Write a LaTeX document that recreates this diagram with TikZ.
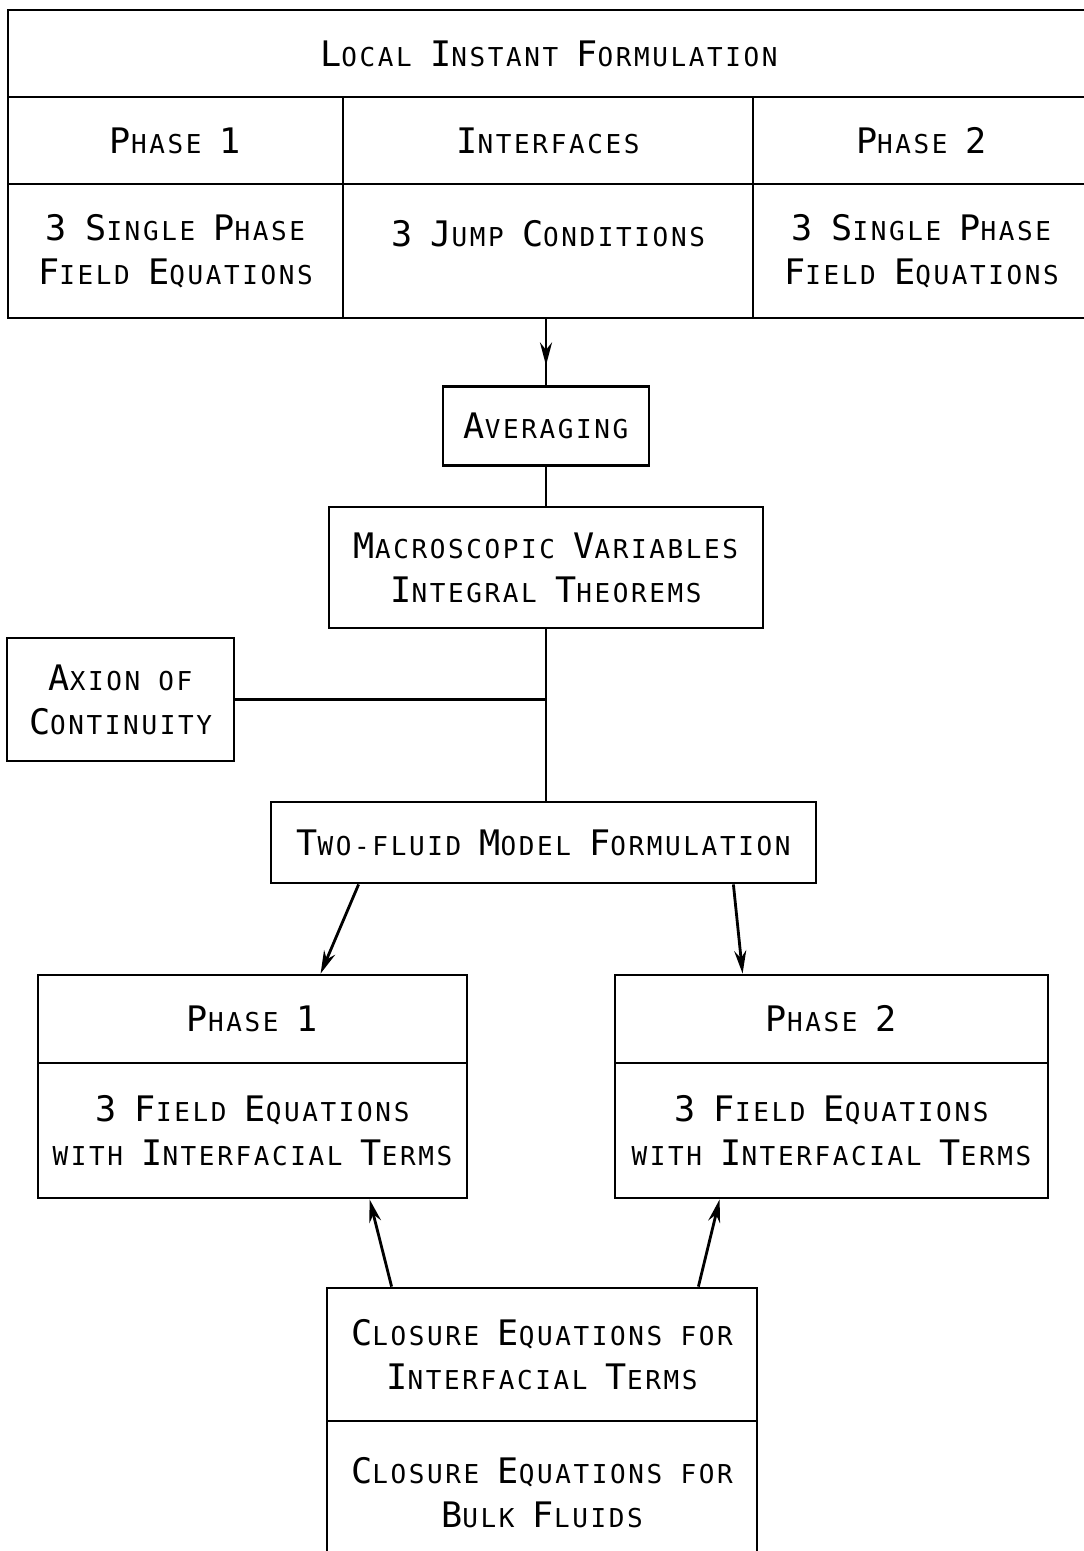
\documentclass[tikz,border=0pt]{standalone}
\usepackage{fontspec}
\usetikzlibrary{arrows.meta,calc}

\newfontfamily\plotfont[LetterSpace=10]{DejaVu Sans Mono}
% large initial letter, rest in small capitals
\newcommand\sk[2]{{\fontsize{10}{12.5}\selectfont#1}#2}

\begin{document}
\begin{tikzpicture}[x=0.1mm,y=-0.1mm,
    line width=0.8pt,
    font=\plotfont\fontsize{7.4}{12.5}\selectfont,
    cell/.style={draw, inner sep=0pt, align=center},
    arr/.style={-{Stealth[length=2.3mm,width=1.2mm]}}]
            \useasboundingbox (0,0) rectangle (1083,1551);

            % Local instant formulation table
            \node[cell, minimum width=108.2mm, minimum height=8.7mm] (local) at (549,53.5)
                {\sk{L}{OCAL} \sk{I}{NSTANT} \sk{F}{ORMULATION}};
            \node[cell, minimum width=33.5mm, minimum height=8.7mm] (top1) at (175.5,140.5)
                {\sk{P}{HASE} \sk{1}{}};
            \node[cell, minimum width=41mm, minimum height=8.7mm] (topi) at (548,140.5)
                {\sk{I}{NTERFACES}};
            \node[cell, minimum width=33.7mm, minimum height=8.7mm] (top2) at (921.5,140.5)
                {\sk{P}{HASE} \sk{2}{}};
            \node[cell, minimum width=33.5mm, minimum height=13.4mm] (single1) at (175.5,251)
                {\sk{3}{} \sk{S}{INGLE} \sk{P}{HASE}\\\sk{F}{IELD} \sk{E}{QUATIONS}};
            \node[cell, minimum width=41mm, minimum height=13.4mm] (jump) at (548,251)
                {\sk{3}{} \sk{J}{UMP} \sk{C}{ONDITIONS}\\[-6pt]\strut};
            \node[cell, minimum width=33.7mm, minimum height=13.4mm] (single2) at (921.5,251)
                {\sk{3}{} \sk{S}{INGLE} \sk{P}{HASE}\\\sk{F}{IELD} \sk{E}{QUATIONS}};

            % Averaging steps
            \node[cell, minimum width=20.6mm, minimum height=7.9mm] (avg) at (546,426)
                {\sk{A}{VERAGING}};
            \node[cell, minimum width=43.4mm, minimum height=12.1mm] (macro) at (546,567.5)
                {\sk{M}{ACROSCOPIC} \sk{V}{ARIABLES}\\\sk{I}{NTEGRAL} \sk{T}{HEOREMS}};
            \node[cell, minimum width=22.7mm, minimum height=12.3mm] (axion) at (120.5,699.5)
                {\sk{A}{XION} OF\\\sk{C}{ONTINUITY}};
            \node[cell, minimum width=54.5mm, minimum height=8.1mm] (twofluid) at (543.5,842.5)
                {\sk{T}{WO-FLUID} \sk{M}{ODEL} \sk{F}{ORMULATION}};

            % Two-fluid phases
            \node[cell, minimum width=42.9mm, minimum height=8.8mm] (ph1) at (252.5,1019)
                {\sk{P}{HASE} \sk{1}{}};
            \node[cell, minimum width=42.9mm, minimum height=13.5mm] (field1) at (252.5,1130.5)
                {\sk{3}{} \sk{F}{IELD} \sk{E}{QUATIONS}\\WITH \sk{I}{NTERFACIAL} \sk{T}{ERMS}};
            \node[cell, minimum width=43.3mm, minimum height=8.8mm] (ph2) at (831.5,1019)
                {\sk{P}{HASE} \sk{2}{}};
            \node[cell, minimum width=43.3mm, minimum height=13.5mm] (field2) at (831.5,1130.5)
                {\sk{3}{} \sk{F}{IELD} \sk{E}{QUATIONS}\\WITH \sk{I}{NTERFACIAL} \sk{T}{ERMS}};

            % Closure equations
            \node[cell, minimum width=43mm, minimum height=13.3mm] (clos1) at (542,1354.5)
                {\sk{C}{LOSURE} \sk{E}{QUATIONS} FOR\\\sk{I}{NTERFACIAL} \sk{T}{ERMS}};
            \node[cell, minimum width=43mm, minimum height=14.4mm] (clos2) at (542,1493)
                {\sk{C}{LOSURE} \sk{E}{QUATIONS} FOR\\\sk{B}{ULK} \sk{F}{LUIDS}};

            % Connections
            \draw[arr] (avg.north |- jump.south) -- ++(0,46);
            \draw (avg.north |- jump.south) -- (avg.north);
            \draw (avg.south) -- (avg.south |- macro.north);
            \draw (macro.south) -- (macro.south |- twofluid.north);
            \draw (axion.east) -- (macro.south |- axion.east);
            \draw[arr] ($(twofluid.south west)+(89,0)$) -- ($(ph1.north west)+(284,0)$);
            \draw[arr] ($(twofluid.south east)+(-84,0)$) -- ($(ph2.north west)+(129,0)$);
            \draw[arr] ($(clos1.north west)+(66,0)$) -- ($(field1.south west)+(333,0)$);
            \draw[arr] ($(clos1.north east)+(-60,0)$) -- ($(field2.south west)+(106,0)$);
        \end{tikzpicture}
\end{document}
